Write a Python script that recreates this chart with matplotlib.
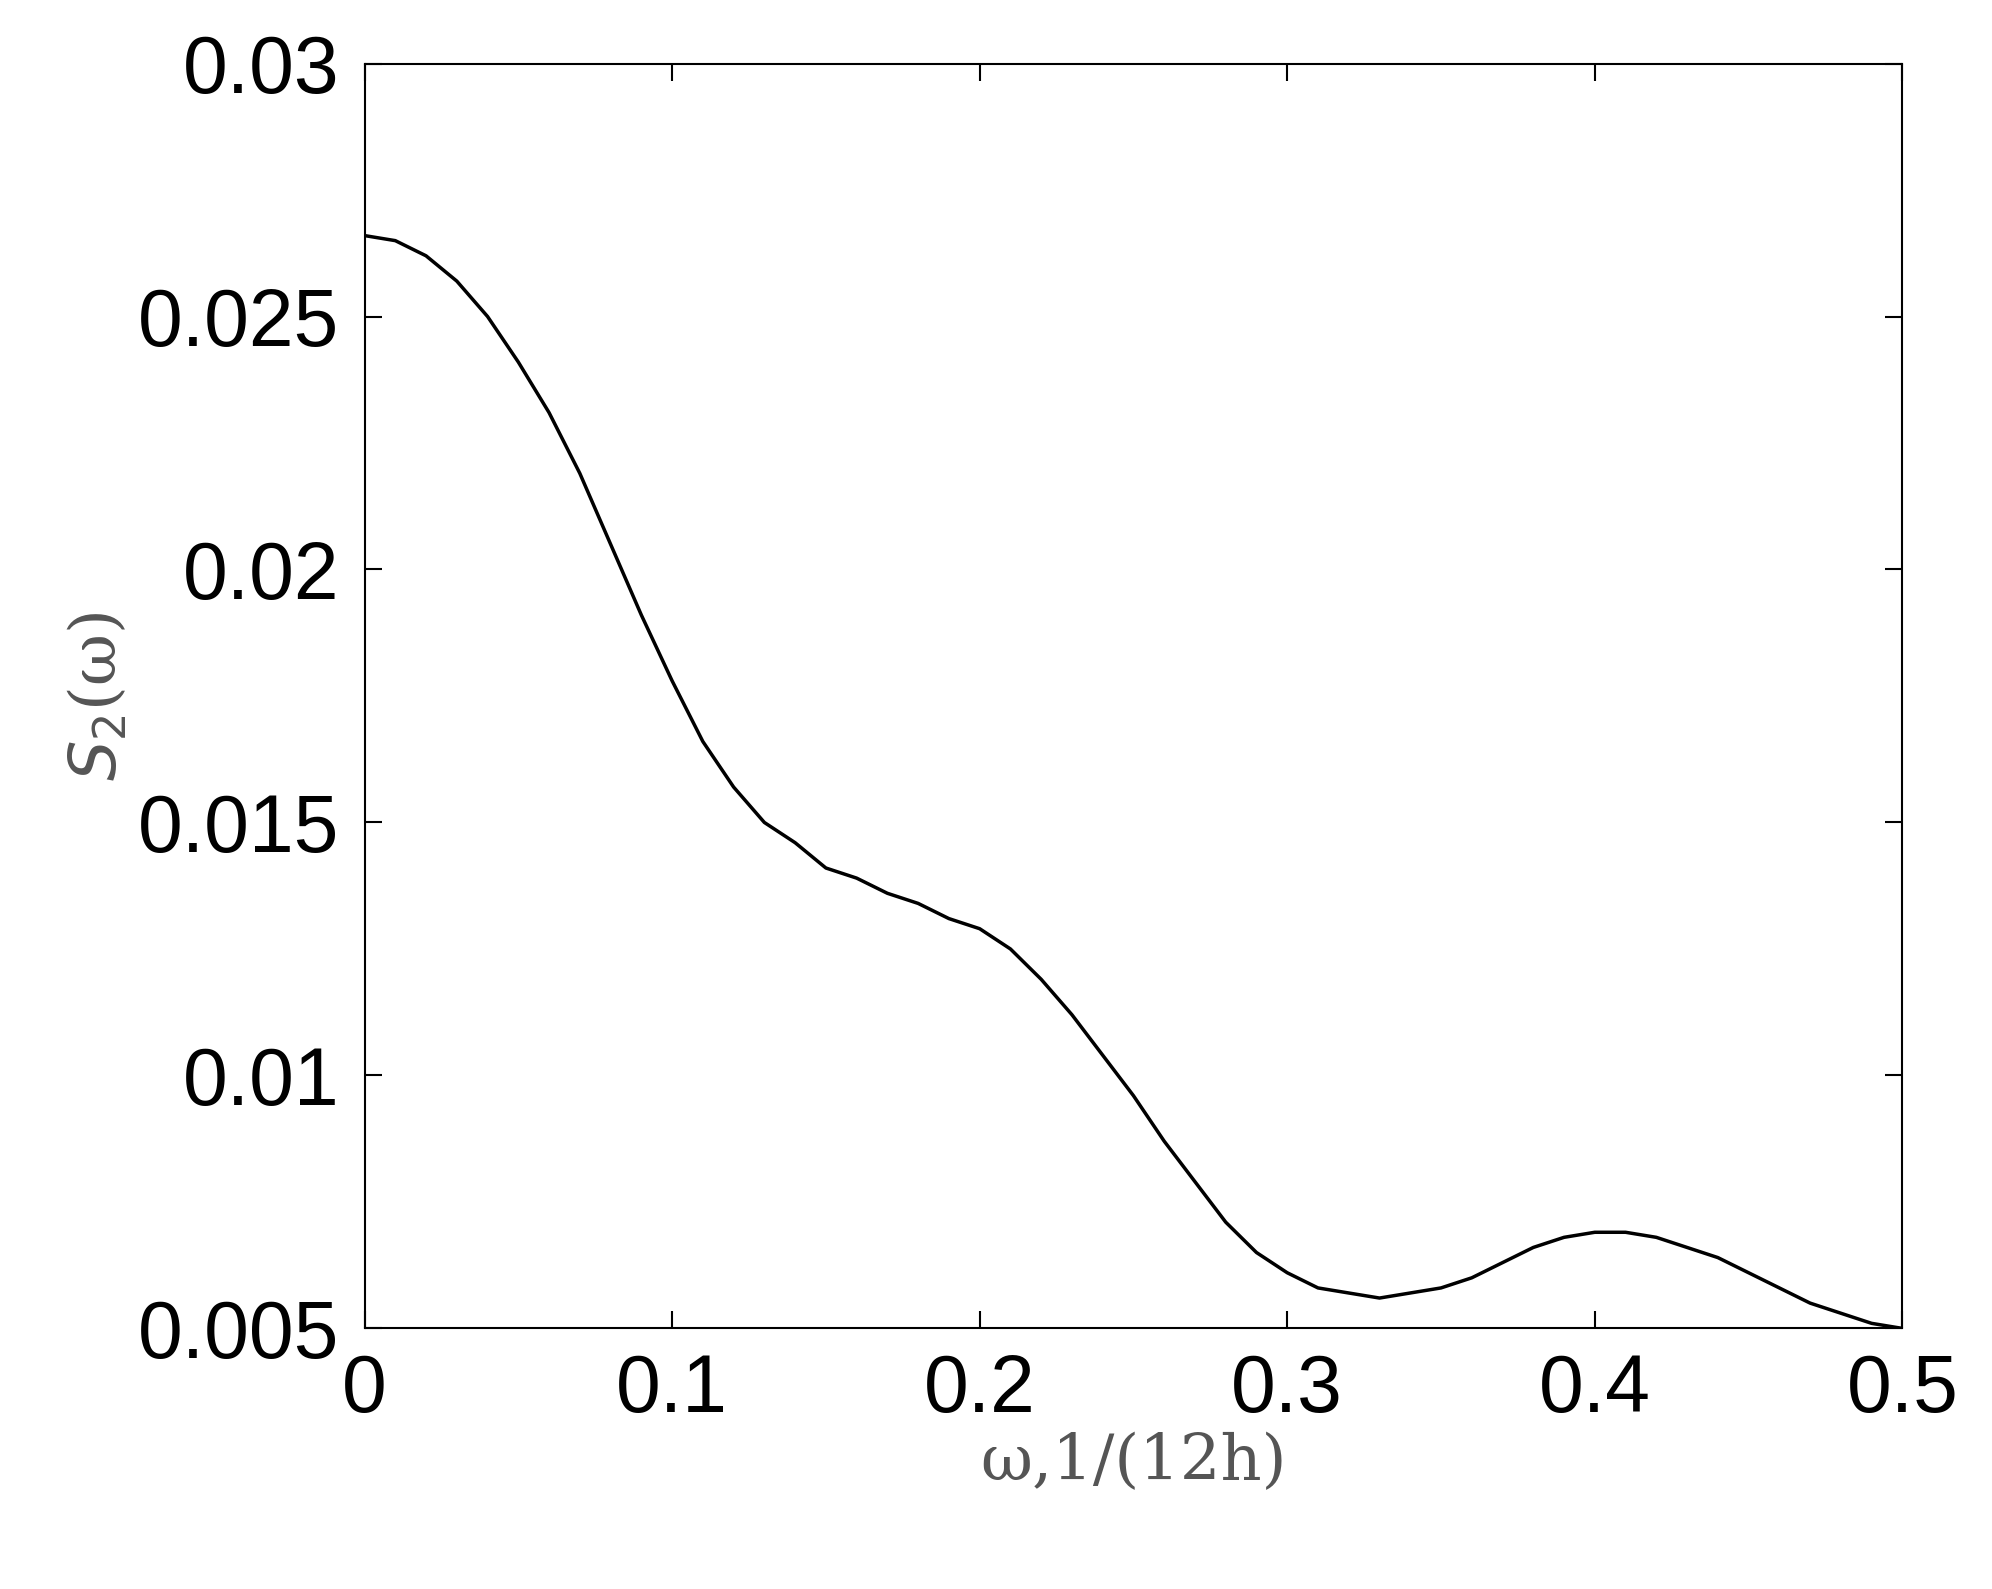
import matplotlib
matplotlib.use("Agg")
import matplotlib.pyplot as plt

omega = [0.0,0.01,0.02,0.03,0.04,0.05,0.06,0.07,0.08,0.09,0.10,0.11,0.12,0.13,0.14,0.15,0.16,0.17,0.18,0.19,0.20,
         0.21,0.22,0.23,0.24,0.25,0.26,0.27,0.28,0.29,0.30,0.31,0.32,0.33,0.34,0.35,0.36,0.37,0.38,0.39,0.40,
         0.41,0.42,0.43,0.44,0.45,0.46,0.47,0.48,0.49,0.50]
s2 = [0.0266,0.0265,0.0262,0.0257,0.0250,0.0241,0.0231,0.0219,0.0205,0.0191,0.0178,0.0166,0.0157,0.0150,0.0146,
      0.0141,0.0139,0.0136,0.0134,0.0131,0.0129,0.0125,0.0119,0.0112,0.0104,0.0096,0.0087,0.0079,0.0071,0.0065,
      0.0061,0.0058,0.0057,0.0056,0.0057,0.0058,0.0060,0.0063,0.0066,0.0068,0.0069,0.0069,0.0068,0.0066,0.0064,
      0.0061,0.0058,0.0055,0.0053,0.0051,0.0050]
xticks = [0, 0.1, 0.2, 0.3, 0.4, 0.5]
xticklabels = ["0", "0.1", "0.2", "0.3", "0.4", "0.5"]
yticks = [0.005, 0.01, 0.015, 0.02, 0.025, 0.03]
yticklabels = ["0.005", "0.01", "0.015", "0.02", "0.025", "0.03"]

fig = plt.figure(figsize=(19.92, 15.89), dpi=100)
ax = fig.add_axes([0.183, 0.164, 0.772, 0.796])
ax.plot(omega, s2, color="black", lw=2.5)
ax.set_xlim(0, 0.5)
ax.set_ylim(0.005, 0.03)
ax.set_xticks(xticks)
ax.set_xticklabels(xticklabels, family="Liberation Sans")
ax.set_yticks(yticks)
ax.set_yticklabels(yticklabels, family="Liberation Sans")
ax.tick_params(direction="in", length=12, width=1.5, labelsize=58, top=True, right=True, pad=18)
for s in ax.spines.values():
    s.set_linewidth(1.5)
ax.set_xlabel("ω,1/(12h)", family="DejaVu Serif", fontsize=46, color="#555555", labelpad=2)
ax.set_ylabel(r"$S_2$(ω)", family="DejaVu Serif", fontsize=46, color="#555555", labelpad=6)
fig.savefig("out.png", dpi=100)
